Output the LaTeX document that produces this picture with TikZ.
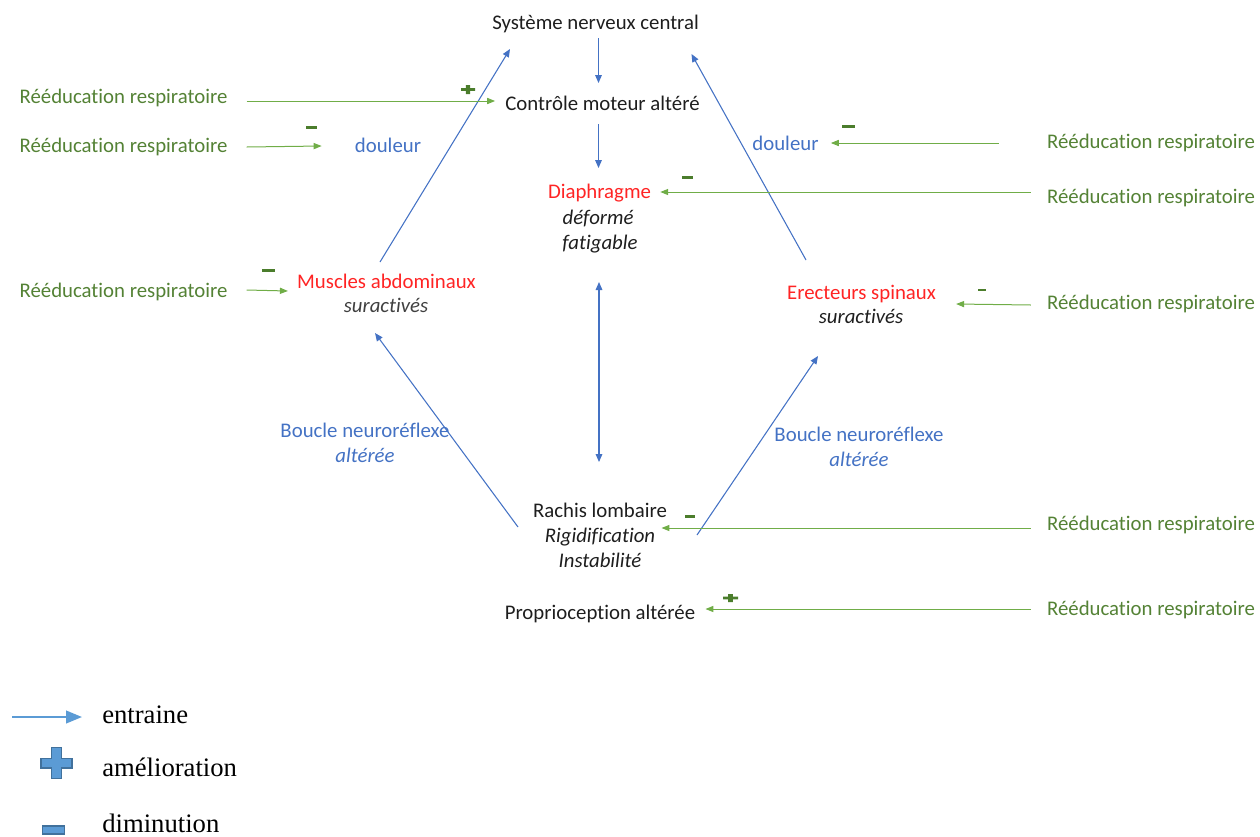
\documentclass[tikz,border=0pt]{standalone}
\usepackage{fontspec}
\setmainfont[Ligatures=NoCommon]{Carlito}
\newfontfamily\keyfont{Liberation Serif}
\usetikzlibrary{arrows.meta,calc}
\definecolor{ink}{HTML}{1E1E1E}
\definecolor{muted}{HTML}{404040}
\definecolor{organred}{HTML}{FF2424}
\definecolor{linkblue}{HTML}{4472C4}
\definecolor{rehabgreen}{HTML}{548235}
\definecolor{treatgreen}{HTML}{70AD47}
\definecolor{markgreen}{HTML}{4B7D2C}
\definecolor{keyfill}{HTML}{5B9BD5}
\definecolor{keyborder}{HTML}{41719C}
\newcommand\bodyfont{\fontsize{15.6}{19}\selectfont}
\newcommand\keysize{\fontsize{20}{24}\selectfont}
\tikzset{
  every node/.style={font=\bodyfont, text=ink, inner sep=0pt, anchor=base},
  flow/.style={-{Triangle[length=6pt,width=5pt]}, draw=linkblue,
    line width=0.8pt},
  twoway/.style={flow, {Triangle[length=6pt,width=5pt]}-{Triangle[length=6pt,width=5pt]}},
  treat/.style={-{Triangle[length=6pt,width=4.6pt]}, draw=treatgreen,
    line width=0.75pt},
  keyflow/.style={-{Triangle[length=12pt,width=9.5pt]}, draw=keyfill,
    line width=1.6pt},
  organtext/.style={text=organred},
  statetext/.style={font=\bodyfont\itshape},
  looptext/.style={text=linkblue},
  rehab/.style={text=rehabgreen},
  minussign/.style={rectangle, anchor=center, fill=markgreen, draw=none,
    minimum width=8.25pt, minimum height=2.2pt},
  keyminus/.style={rectangle, anchor=center, fill=keyfill, draw=keyborder,
    line width=0.8pt, minimum width=17pt, minimum height=6pt},
  keytext/.style={anchor=base west, font=\keyfont\keysize, text=black},
  pics/plusmark/.style={code={
    \path[pic actions] (-0.32,-1) -- (0.32,-1) -- (0.32,-0.32) -- (1,-0.32)
      -- (1,0.32) -- (0.32,0.32) -- (0.32,1) -- (-0.32,1) -- (-0.32,0.32)
      -- (-1,0.32) -- (-1,-0.32) -- (-0.32,-0.32) -- cycle;
  }}
}

\begin{document}
\begin{tikzpicture}[x=0.75pt,y=-0.75pt]
  \useasboundingbox (0,0) rectangle (1260,836);

  % Central chain, top to bottom.
  \node (snc) at (595.5,29) {Système nerveux central};
  \node (ctrl) at (602.5,110) {Contrôle moteur altéré};
  \node[organtext] (diaph) at (599.5,198) {Diaphragme};
  \node[statetext] (diaphA) at (598,224) {déformé};
  \node[statetext] (diaphB) at (600,249) {fatigable};
  \node (rachis) at (600,517) {Rachis lombaire};
  \node[statetext] (rachisA) at (600,542) {Rigidification};
  \node[statetext] (rachisB) at (600,567) {Instabilité};
  \node (proprio) at (600,619) {Proprioception altérée};

  % Muscles on both sides, pain and reflex loops.
  \node[organtext] (abdo) at (386.5,288) {Muscles abdominaux};
  \node[statetext, text=muted] (abdoA) at (386,312) {suractivés};
  \node[organtext] (erect) at (861.5,299) {Erecteurs spinaux};
  \node[statetext] (erectA) at (861,323) {suractivés};
  \node[looptext] (doulL) at (388,152) {douleur};
  \node[looptext] (doulR) at (785.5,150) {douleur};
  \node[looptext] (boucleL) at (365,437) {Boucle neuroréflexe};
  \node[looptext, statetext] (boucleLA) at (365,462) {altérée};
  \node[looptext] (boucleR) at (859,441) {Boucle neuroréflexe};
  \node[looptext, statetext] (boucleRA) at (859,466) {altérée};

  \draw[flow] ($(snc.base)+(3,9)$) -- ($(ctrl.base)+(-4,-27)$);
  \draw[flow] ($(ctrl.base)+(-4,14)$) -- ($(diaph.base)+(-1,-30)$);
  \draw[twoway] ($(diaphB.base)+(-1,33)$) -- ($(rachis.base)+(-1,-55)$);
  \draw[flow] ($(abdo.base)+(-6.5,-26)$) -- ($(snc.base)+(-85.5,20)$);
  \draw[flow] ($(erect.base)+(-55.5,-39)$) -- ($(snc.base)+(96,25)$);
  \draw[flow] ($(rachis.base)+(-82,10)$) -- ($(abdoA.base)+(-11,21)$);
  \draw[flow] ($(rachis.base)+(97,18)$) -- ($(erectA.base)+(-43,33)$);

  % Respiratory rehabilitation, left column.
  \node[rehab] (rL1) at (123.5,103) {Rééducation respiratoire};
  \node[rehab] (rL2) at (123.5,152) {Rééducation respiratoire};
  \node[rehab] (rL3) at (123.5,297) {Rééducation respiratoire};
  \draw[treat] ($(rL1.base east)+(19,-2)$) -- ($(ctrl.base west)+(-10,-9)$);
  \draw[treat] ($(rL2.base east)+(19,-5)$) -- ($(doulL.base west)+(-33,-6)$);
  \draw[treat] ($(rL3.base east)+(19,-7)$) -- ($(abdo.base west)+(-9,3)$);
  \pic[fill=markgreen, xscale=7, yscale=4.5] at (468,89.5) {plusmark};
  \node[minussign] (mL2) at (311.5,127.5) {};
  \node[minussign, minimum width=9.75pt] (mL3) at (268.5,270.5) {};

  % Respiratory rehabilitation, right column.
  \node[rehab] (rR1) at (1151,148) {Rééducation respiratoire};
  \node[rehab] (rR2) at (1151,203) {Rééducation respiratoire};
  \node[rehab] (rR3) at (1151,309) {Rééducation respiratoire};
  \node[rehab] (rR4) at (1151,530) {Rééducation respiratoire};
  \node[rehab] (rR5) at (1151,615) {Rééducation respiratoire};
  \draw[treat] ($(rR1.base west)+(-48,-5)$) -- ($(doulR.base east)+(12,-7)$);
  \draw[treat] ($(rR2.base west)+(-16,-11)$) -- ($(diaph.base east)+(9,-6)$);
  \draw[treat] ($(rR3.base west)+(-16,-4)$) -- ($(erect.base east)+(20,5)$);
  \draw[treat] ($(rR4.base west)+(-16,-2)$) -- ($(rachisA.base east)+(6,-14)$);
  \draw[treat] ($(rR5.base west)+(-16,-6)$) -- ($(proprio.base east)+(10,-10)$);
  \node[minussign, minimum width=9.75pt] (mR1) at (848.5,126.5) {};
  \node[minussign] (mR2) at (687.5,177.5) {};
  \node[minussign, minimum width=6pt] (mR3) at (982,290) {};
  \node[minussign, minimum width=7.5pt] (mR4) at (690,516.5) {};
  \pic[fill=markgreen, xscale=7.5, yscale=4] at (730.5,598) {plusmark};

  % Key.
  \coordinate (keytail) at (12,717);
  \coordinate (keyhead) at (82,717);
  \draw[keyflow] (keytail) -- (keyhead);
  \node[keytext] (kentraine) at (102,723) {entraine};
  \pic[fill=keyfill, draw=keyborder, line width=0.8pt, scale=15.5]
    at (56.5,763) {plusmark};
  \node[keytext] (kplus) at (102,776) {amélioration};
  \node[keyminus] (kminusmark) at (53.5,830) {};
  \node[keytext] (kminus) at (102,832) {diminution};
\end{tikzpicture}
\end{document}
